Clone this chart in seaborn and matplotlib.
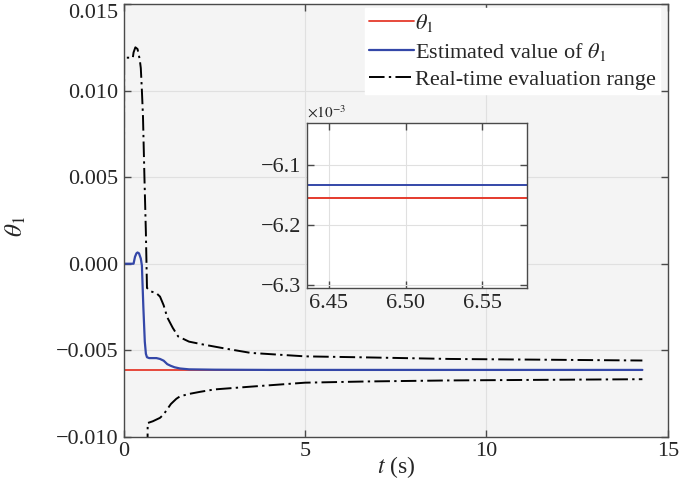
import numpy as np
import pandas as pd
import matplotlib
matplotlib.use("Agg")
import matplotlib.pyplot as plt
import matplotlib.transforms as mtransforms
import seaborn as sns
from matplotlib.ticker import FuncFormatter

# data
t_true = [0.0, 14.3]
theta_true = [-0.006155, -0.006155]

t_est = [0.0, 0.27, 0.31, 0.35, 0.38, 0.42, 0.47, 0.50, 0.54, 0.58, 0.61, 0.64,
         0.70, 0.90, 1.00, 1.10, 1.20, 1.30, 1.40, 1.55, 1.80, 2.50, 4.00, 14.3]
theta_est = [0.0, 0.0, 0.0004, 0.0006, 0.00065, 0.0006, 0.0003, -0.0001, -0.0025,
             -0.0045, -0.0052, -0.0054, -0.00545, -0.00545, -0.0055, -0.0056,
             -0.0058, -0.0059, -0.00598, -0.00605, -0.0061, -0.00612, -0.006133,
             -0.006133]

t_upper = [0.0, 0.01, 0.25, 0.27, 0.32, 0.38, 0.44, 0.47, 0.50, 0.53, 0.57, 0.61,
           0.64, 0.75, 0.90, 1.00, 1.10, 1.20, 1.35, 1.50, 1.80, 2.20, 2.80, 3.50,
           5.00, 6.70, 9.00, 12.0, 14.3]
upper = [-0.012, 0.0119, 0.0119, 0.0122, 0.0125, 0.0124, 0.0118, 0.0113, 0.0100,
         0.0085, 0.0050, 0.0018, -0.0014, -0.0016, -0.0017, -0.0019, -0.0024,
         -0.0031, -0.0037, -0.0042, -0.0045, -0.00467, -0.0049, -0.00515,
         -0.00535, -0.00541, -0.0055, -0.00555, -0.00559]

t_lower = [0.0, 0.62, 0.66, 0.80, 1.00, 1.10, 1.20, 1.30, 1.45, 1.55, 1.80, 2.10,
           2.50, 3.50, 5.00, 6.70, 9.00, 12.0, 14.3]
lower = [-0.02, -0.02, -0.0092, -0.0091, -0.0089, -0.0087, -0.0084, -0.0081,
         -0.0078, -0.00766, -0.00752, -0.0074, -0.00726, -0.0071, -0.00687,
         -0.0068, -0.00674, -0.0067, -0.00667]

x_ticks = [0, 5, 10, 15]
y_ticks = [-0.010, -0.005, 0.000, 0.005, 0.010, 0.015]
inset_x_ticks = [6.45, 6.50, 6.55]
inset_y_ticks = [-6.3e-3, -6.2e-3, -6.1e-3]

red = "#e53a2c"
blue = "#3447a8"
dashdot = (0, (8, 2.2, 1.2, 2.2))

sns.set_theme(style="ticks")
plt.rcParams["font.family"] = ["Liberation Serif", "DejaVu Serif"]
plt.rcParams["mathtext.fontset"] = "stix"
plt.rcParams["axes.unicode_minus"] = True

FS = 16


def minus(s):
    return s.replace("-", "\u2212")


def style_axes(ax, face):
    ax.set_facecolor(face)
    ax.grid(True, color="#e0e0e0", linewidth=0.8)
    ax.set_axisbelow(True)
    for sp in ax.spines.values():
        sp.set_color("#4a4a4a")
        sp.set_linewidth(1.0)
    ax.tick_params(direction="in", top=True, right=True, length=5,
                   width=1.0, color="#4a4a4a", labelsize=FS, pad=4)


fig = plt.figure(figsize=(6.8, 5.01), dpi=100)
ax = fig.add_axes([0.182, 0.128, 0.8, 0.864])
style_axes(ax, "#f4f4f4")

sns.lineplot(x=t_true, y=theta_true, ax=ax, color=red, linewidth=1.3,
             label=r"$\theta_1$", estimator=None, sort=False)
sns.lineplot(x=t_est, y=theta_est, ax=ax, color=blue, linewidth=1.6,
             label=r"Estimated value of $\theta_1$", estimator=None, sort=False)
sns.lineplot(x=t_upper, y=upper, ax=ax, color="black", linewidth=1.4,
             linestyle=dashdot, label="Real-time evaluation range",
             estimator=None, sort=False)
sns.lineplot(x=t_lower, y=lower, ax=ax, color="black", linewidth=1.4,
             linestyle=dashdot, estimator=None, sort=False)

ax.set_xlim(0, 15)
ax.set_ylim(-0.010, 0.015)
ax.set_xticks(x_ticks)
ax.set_yticks(y_ticks)
ax.yaxis.set_major_formatter(FuncFormatter(
    lambda v, p: "0.000" if abs(v) < 1e-9 else minus(f"{v:.3f}")))
ax.xaxis.set_major_formatter(FuncFormatter(lambda v, p: f"{v:g}"))
ax.set_xlabel(r"$t$ (s)", fontsize=FS + 1)
ax.set_ylabel(r"$\theta_1$", fontsize=18, rotation=90)
ax.xaxis.set_label_coords(0.5, -0.04)
ax.yaxis.set_label_coords(-0.176, 0.486)

# keep the top tick label inside the figure
top_lab = ax.yaxis.get_major_ticks()[-1].label1
top_lab.set_transform(top_lab.get_transform() + mtransforms.ScaledTranslation(
    0, -5 / 72, fig.dpi_scale_trans))

leg = ax.legend(loc="upper right", bbox_to_anchor=(0.99, 0.997), fontsize=FS,
                frameon=True, fancybox=False, edgecolor="white",
                facecolor="white", framealpha=1, handlelength=2.0,
                handletextpad=0.05, labelspacing=0.3, borderpad=0.2,
                borderaxespad=0.1)

# inset zoom
axin = fig.add_axes([0.451, 0.425, 0.324, 0.329])
style_axes(axin, "white")
sns.lineplot(x=t_true, y=theta_true, ax=axin, color=red, linewidth=1.4,
             estimator=None, sort=False, legend=False)
sns.lineplot(x=t_est, y=theta_est, ax=axin, color=blue, linewidth=1.4,
             estimator=None, sort=False, legend=False)
axin.set_xlim(6.4356, 6.579)
axin.set_ylim(-6.305e-3, -6.03e-3)
axin.set_xticks(inset_x_ticks)
axin.set_yticks(inset_y_ticks)
axin.xaxis.set_major_formatter(FuncFormatter(lambda v, p: f"{v:.2f}"))
axin.yaxis.set_major_formatter(FuncFormatter(lambda v, p: minus(f"{v * 1e3:.1f}")))
axin.set_xlabel("")
axin.set_ylabel("")
axin.text(0.0, 1.015, r"$\times10^{-3}$", transform=axin.transAxes,
          fontsize=11, ha="left", va="bottom")

fig.savefig("out.png", dpi=100)
